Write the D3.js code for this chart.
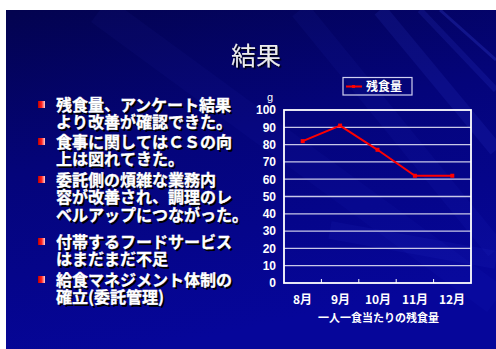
<!DOCTYPE html>
<html><head><meta charset="utf-8">
<script src="https://cdn.jsdelivr.net/npm/d3@7"></script>
<style>
@font-face{font-family:"JPTight";font-weight:bold;src:local("Noto Sans CJK JP Bold"),local("NotoSansCJKjp-Bold"),local("Noto Sans CJK JP");ascent-override:82%;descent-override:10%;line-gap-override:0%}
@font-face{font-family:"JPTight";font-weight:normal;src:local("Noto Sans CJK JP Regular"),local("NotoSansCJKjp-Regular"),local("Noto Sans CJK JP");ascent-override:82%;descent-override:10%;line-gap-override:0%}
body{margin:0;background:#fff}
svg{display:block}
#wrap{position:relative;width:496px;height:349px;overflow:hidden}
.bl{position:absolute;left:56px;font-family:"JPTight","Noto Sans CJK JP";font-weight:bold;font-size:16px;color:#fff;white-space:nowrap;text-shadow:1.5px 1.5px 0 #000;-webkit-text-stroke:0.35px #fff}
</style>
</head><body>
<div id="wrap"></div>
<script>
const title = "結果";
const bullets = [
  ["残食量、アンケート結果", "より改善が確認できた。"],
  ["食事に関してはＣＳの向", "上は図れてきた。"],
  ["委託側の煩雑な業務内", "容が改善され、調理のレ", "ベルアップにつながった。"],
  ["付帯するフードサービス", "はまだまだ不足"],
  ["給食マネジメント体制の", "確立(委託管理)"]
];
const months = ["8月", "9月", "10月", "11月", "12月"];
const leftovers = [82, 91, 77, 62, 62];
const yTicks = [0, 10, 20, 30, 40, 50, 60, 70, 80, 90, 100];
const seriesName = "残食量";
const xTitle = "一人一食当たりの残食量";
const yUnit = "g";

const JP = '"JPTight", "Noto Sans CJK JP"';
const W = 496, H = 349;
const wrap = d3.select("#wrap");
const svg = wrap.append("svg").attr("width", W).attr("height", H);
const defs = svg.append("defs");
const bg = defs.append("linearGradient").attr("id", "bg").attr("x1", 0).attr("y1", 0).attr("x2", 0.3).attr("y2", 1);
bg.append("stop").attr("offset", 0).attr("stop-color", "#03034f");
bg.append("stop").attr("offset", 0.45).attr("stop-color", "#04047a");
bg.append("stop").attr("offset", 1).attr("stop-color", "#06069a");
const bl = defs.append("linearGradient").attr("id", "bul");
bl.append("stop").attr("offset", 0).attr("stop-color", "#c00000");
bl.append("stop").attr("offset", 0.5).attr("stop-color", "#ff2020");
bl.append("stop").attr("offset", 1).attr("stop-color", "#ffd0d0");
const sh = defs.append("filter").attr("id", "sh").attr("x", -0.1).attr("y", -0.1).attr("width", 1.3).attr("height", 1.3);
sh.append("feDropShadow").attr("dx", 1.5).attr("dy", 1.5).attr("stdDeviation", 0.3).attr("flood-color", "#000").attr("flood-opacity", 0.9);

svg.append("rect").attr("x", 6).attr("y", 10).attr("width", W - 6).attr("height", H - 10).attr("fill", "url(#bg)");
defs.append("clipPath").attr("id", "slide").append("rect").attr("x", 6).attr("y", 10).attr("width", W - 6).attr("height", H - 10);
const streaks = svg.append("g").attr("clip-path", "url(#slide)");
[[380, 10, 496, 150, 14, 0.10], [420, 10, 496, 90, 6, 0.12], [300, 10, 496, 250, 20, 0.05], [100, 10, 496, 300, 30, 0.04], [330, 230, 496, 260, 18, 0.06], [440, 10, 496, 60, 3, 0.2]].forEach(s => {
  streaks.append("line").attr("x1", s[0]).attr("y1", s[1]).attr("x2", s[2]).attr("y2", s[3])
    .attr("stroke", "#4a5aff").attr("stroke-width", s[4]).attr("opacity", s[5]);
});

svg.append("text").attr("x", 256).attr("y", 65).attr("text-anchor", "middle")
  .attr("font-family", JP).attr("font-size", 25).attr("fill", "#ececec")
  .attr("filter", "url(#sh)").text(title);

// bullets
const bulletTop = [105, 142, 180, 242, 280];
const lineH = 17.8;
bullets.forEach((lines, i) => {
  svg.append("rect").attr("x", 38).attr("y", bulletTop[i] - 4).attr("width", 7).attr("height", 7).attr("fill", "url(#bul)");
  const div = wrap.append("div").attr("class", "bl")
    .style("top", (bulletTop[i] - lineH / 2 + 0.5) + "px").style("line-height", lineH + "px");
  div.html(lines.map(t => t.replace(/&/g, "&amp;").replace(/</g, "&lt;")).join("<br>"));
});

// chart
const px0 = 284, px1 = 471, py0 = 110, py1 = 283;
const x = d3.scaleBand().domain(months).range([px0, px1]);
const y = d3.scaleLinear().domain([0, 100]).range([py1, py0]);
const g = svg.append("g");
g.selectAll(".grid").data(yTicks.filter(d => d > 0 && d < 100)).join("line")
  .attr("x1", px0).attr("x2", px1).attr("y1", d => y(d)).attr("y2", d => y(d))
  .attr("stroke", "#c8c8e8").attr("stroke-width", 1.3);
g.append("rect").attr("x", px0).attr("y", py0).attr("width", px1 - px0).attr("height", py1 - py0)
  .attr("fill", "none").attr("stroke", "#fff").attr("stroke-width", 1.8);

const yAxis = g.append("g").attr("transform", `translate(${px0},0)`)
  .call(d3.axisLeft(y).tickValues(yTicks).tickSize(0).tickPadding(8));
yAxis.select(".domain").remove();
yAxis.selectAll("text").attr("font-family", "Liberation Sans").attr("font-weight", "bold").attr("font-size", 12).attr("fill", "#fff");

const xAxis = g.append("g").attr("transform", `translate(0,${py1})`)
  .call(d3.axisBottom(x).tickSize(0).tickPadding(17));
xAxis.select(".domain").remove();
xAxis.selectAll("text").attr("y", 17).attr("dy", "0.35em")
  .attr("font-family", JP).attr("font-weight", "bold").attr("font-size", 12).attr("fill", "#fff");
g.selectAll(".xt").data(months.slice(1)).join("line")
  .attr("x1", d => x(d)).attr("x2", d => x(d)).attr("y1", py1).attr("y2", py1 - 4)
  .attr("stroke", "#fff").attr("stroke-width", 1);

g.append("text").attr("x", 270).attr("y", 101).attr("text-anchor", "middle")
  .attr("font-family", "Liberation Sans").attr("font-size", 11).attr("fill", "#fff").text(yUnit);
g.append("text").attr("x", 378).attr("y", 318.5).attr("dy", "0.35em").attr("text-anchor", "middle")
  .attr("font-family", JP).attr("font-weight", "bold").attr("font-size", 11).attr("fill", "#fff").text(xTitle);

const line = d3.line().x((d, i) => x(months[i]) + x.bandwidth() / 2).y(d => y(d));
g.append("path").attr("d", line(leftovers)).attr("fill", "none").attr("stroke", "#ff0000").attr("stroke-width", 2);
g.selectAll(".pt").data(leftovers).join("rect")
  .attr("x", (d, i) => x(months[i]) + x.bandwidth() / 2 - 2).attr("y", d => y(d) - 2)
  .attr("width", 4).attr("height", 4).attr("fill", "#ff0000");

// legend
const lg = g.append("g");
lg.append("rect").attr("x", 343).attr("y", 77.5).attr("width", 69).attr("height", 17.5)
  .attr("fill", "none").attr("stroke", "#d0d0f0").attr("stroke-width", 1.2);
lg.append("line").attr("x1", 346).attr("x2", 362).attr("y1", 86.5).attr("y2", 86.5).attr("stroke", "#ff0000").attr("stroke-width", 2);
lg.append("rect").attr("x", 352).attr("y", 85).attr("width", 3).attr("height", 3).attr("fill", "#ff0000");
lg.append("text").attr("x", 366).attr("y", 86.5).attr("dy", "0.35em")
  .attr("font-family", JP).attr("font-weight", "bold").attr("font-size", 12).attr("fill", "#fff").text(seriesName);
</script>
</body></html>
